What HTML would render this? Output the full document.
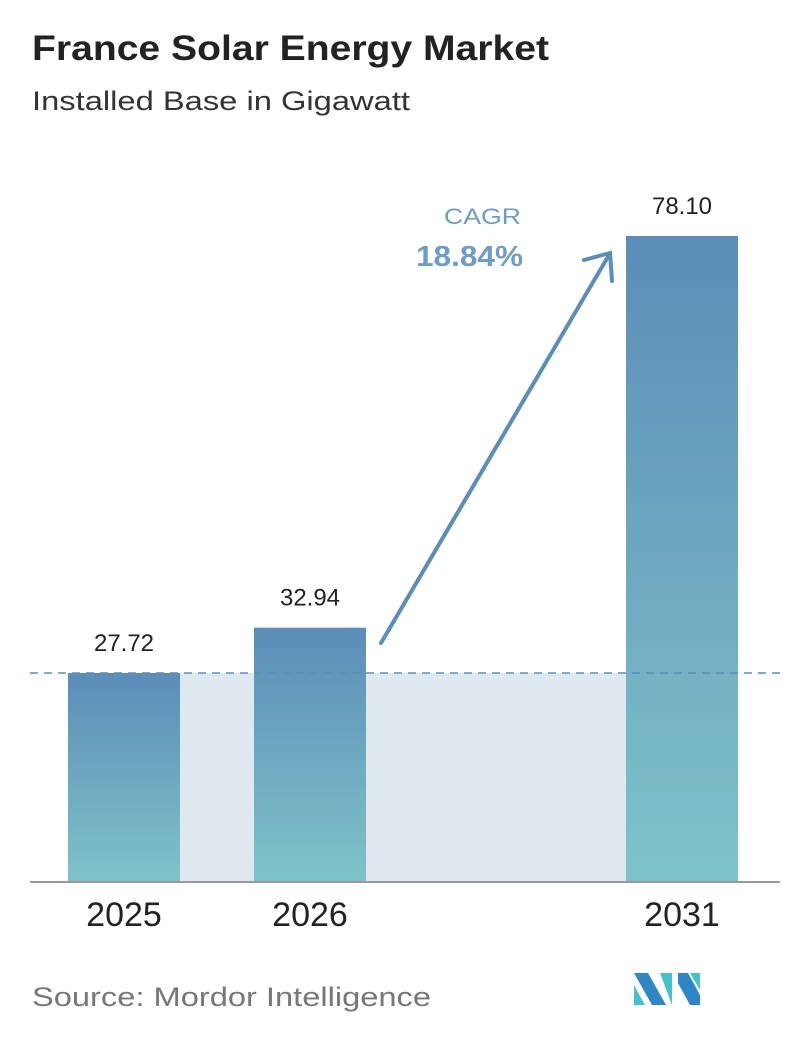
<!DOCTYPE html>
<html><head><meta charset="utf-8"><style>
body{margin:0;width:796px;height:1034px;background:#fff;font-family:"Liberation Sans","DejaVu Sans",sans-serif;overflow:hidden}
</style></head><body>
<svg width="796" height="1034">
<defs><linearGradient id="g" x1="0" y1="0" x2="0" y2="1"><stop offset="0" stop-color="#5b8db8"/><stop offset="1" stop-color="#7fc3c9"/></linearGradient></defs>
<text x="32" y="60" font-size="35" font-weight="bold" fill="#222" textLength="517" lengthAdjust="spacingAndGlyphs">France Solar Energy Market</text>
<text x="32" y="110" font-size="27" fill="#333" textLength="378" lengthAdjust="spacingAndGlyphs">Installed Base in Gigawatt</text>
<g id="plot"></g>
<text x="444" y="224" font-size="22" fill="#6f9cc4" textLength="77" lengthAdjust="spacingAndGlyphs">CAGR</text>
<text x="416" y="266" font-size="29" font-weight="bold" fill="#6f9cc4" textLength="107" lengthAdjust="spacingAndGlyphs">18.84%</text>
<g stroke="#5b8db8" stroke-width="4" fill="none" stroke-linecap="round">
<line x1="381" y1="643" x2="609" y2="255"/><polyline points="584,260 610,253 612,281"/></g>
<text x="32" y="1006" font-size="27" fill="#777" textLength="399" lengthAdjust="spacingAndGlyphs">Source:  Mordor Intelligence</text>
<g>
<polygon points="634,973 648,973 666,1005 652,1005" fill="#2f86c6"/>
<polygon points="634,985 645,1005 634,1005" fill="#45c1c9"/>
<polygon points="660,973 672,973 672,1005" fill="#45c1c9"/>
<polygon points="678,973 688,973 700,995 700,1005 690,1005 678,983" fill="#2f86c6"/>
<polygon points="690,973 700,973 700,990" fill="#45c1c9"/>
</g>
</svg>
<script>
const categories=["2025","2026","2031"];
const values=[27.72,32.94,78.10];
const labels=["27.72","32.94","78.10"];
const xs=[68,254,626];
const bw=112, base=882;
function y(v){return base-(v-3.62)*8.674;}
const ns="http://www.w3.org/2000/svg", g=document.getElementById("plot");
function mk(t,a){const e=document.createElementNS(ns,t);for(const k in a)e.setAttribute(k,a[k]);g.appendChild(e);return e;}
const dy=y(values[0]);
const sh=mk("rect",{x:xs[0],y:dy,width:xs[2]+bw-xs[0],height:base-dy,fill:"#dfe7ef"});


categories.forEach((c,i)=>{
 const r=mk("rect",{x:xs[i],y:y(values[i]),width:bw,height:base-y(values[i]),fill:"url(#g)"});
 
 
 const t=mk("text",{x:xs[i]+bw/2,y:y(values[i])-22,"font-size":24,"text-anchor":"middle",fill:"#222"});
 t.textContent=labels[i];
 
 
 const l=mk("text",{x:xs[i]+bw/2,y:926,"font-size":34,"text-anchor":"middle",fill:"#222"});
 l.textContent=c;
 
 
});
const d=mk("line",{x1:30,x2:780,y1:dy,y2:dy,stroke:"#5b8db8","stroke-width":1.5,"stroke-dasharray":"8,6"});


const ax=mk("line",{x1:30,x2:780,y1:base,y2:base,stroke:"#999","stroke-width":2});


</script>
</body></html>
